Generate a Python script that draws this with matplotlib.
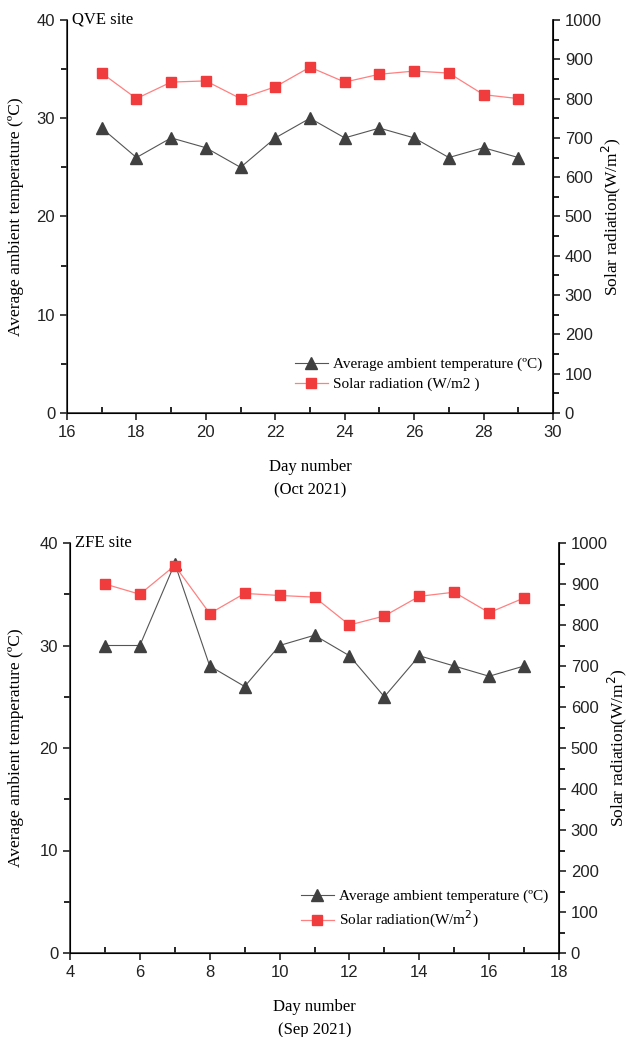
import matplotlib
matplotlib.use("Agg")
import matplotlib.pyplot as plt
from matplotlib.ticker import MultipleLocator

plt.rcParams.update({"font.family": "Liberation Sans", "font.size": 11})
SERIF = "Liberation Serif"

# QVE site, Oct 2021
qve_days = [17, 18, 19, 20, 21, 22, 23, 24, 25, 26, 27, 28, 29]
qve_temp = [29, 26, 28, 27, 25, 28, 30, 28, 29, 28, 26, 27, 26]
qve_rad = [865, 800, 842, 845, 800, 830, 880, 842, 862, 870, 865, 810, 800]

# ZFE site, Sep 2021
zfe_days = [5, 6, 7, 8, 9, 10, 11, 12, 13, 14, 15, 16, 17]
zfe_temp = [30, 30, 38, 28, 26, 30, 31, 29, 25, 29, 28, 27, 28]
zfe_rad = [900, 875, 945, 828, 877, 872, 868, 800, 822, 870, 880, 830, 866]

W, H = 628, 1037
fig = plt.figure(figsize=(W / 100, H / 100), dpi=100)


def panel(rect, days, temp, rad, xlim, site, month, leg_labels, rlab_x):
    ax = fig.add_axes(rect)
    ax2 = ax.twinx()
    ax.spines["top"].set_visible(False)
    ax2.spines["top"].set_visible(False)
    for s in ("left", "bottom"):
        ax.spines[s].set_linewidth(1.2)
        ax.spines[s].set_color("#333333")
    ax2.spines["right"].set_linewidth(1.2)

    l1, = ax.plot(days, temp, color="#555555", lw=0.8, marker="^",
                  ms=8, mfc="#404040", mec="#404040")
    l2, = ax2.plot(days, rad, color="#ff8080", lw=0.9, marker="s",
                   ms=7, mfc="#f03c3c", mec="#f03c3c")

    ax.set_xlim(*xlim)
    ax.set_ylim(0, 40)
    ax2.set_ylim(0, 1000)
    ax.xaxis.set_major_locator(MultipleLocator(2))
    ax.xaxis.set_minor_locator(MultipleLocator(1))
    ax.yaxis.set_major_locator(MultipleLocator(10))
    ax.yaxis.set_minor_locator(MultipleLocator(5))
    ax2.yaxis.set_major_locator(MultipleLocator(100))
    ax2.yaxis.set_minor_locator(MultipleLocator(50))
    ax.tick_params(axis="x", which="major", direction="out", length=5, width=1.2)
    ax.tick_params(axis="x", which="minor", direction="in", length=4, width=1.2)
    ax.tick_params(axis="y", which="major", direction="out", length=5, width=1.2)
    ax.tick_params(axis="y", which="minor", direction="out", length=4, width=1.2)
    ax2.tick_params(axis="y", which="major", direction="out", length=5, width=1.2)
    ax2.tick_params(axis="y", which="minor", direction="out", length=4, width=1.2)
    ax.tick_params(labelsize=12, colors="#222222")
    ax2.tick_params(labelsize=12, colors="#222222")

    axw = rect[2] * W
    ax.set_ylabel("Average ambient temperature (ºC)", family=SERIF,
                  fontsize=12.5, va="center")
    ax.yaxis.set_label_coords(-(rect[0] * W - 16) / axw, 0.5)
    ax2.set_ylabel("Solar radiation(W/m$^2$)", family=SERIF, fontsize=12.5,
                   rotation=90, va="center")
    ax2.yaxis.set_label_coords(1 + (rlab_x - (rect[0] * W + axw)) / axw, 0.5)
    ax.set_xlabel(f"Day number\n({month} 2021)", family=SERIF, fontsize=12,
                  labelpad=14, linespacing=1.6)
    ax.text(0.01, 1.0, site, transform=ax.transAxes, family=SERIF,
            fontsize=12, va="center", ha="left")
    ax2.legend([l1, l2], leg_labels, loc="lower right",
               bbox_to_anchor=(0.99, 0.04), frameon=False,
               prop={"family": SERIF, "size": 11}, handlelength=2.2,
               handletextpad=0.3, labelspacing=0.4, borderaxespad=0)
    return ax


panel([67 / W, 1 - 413 / H, 486 / W, 393 / H], qve_days, qve_temp, qve_rad,
      (16, 30), "QVE site", "Oct",
      ["Average ambient temperature (ºC)", "Solar radiation (W/m2 )"], 611)
panel([70 / W, 1 - 953 / H, 489 / W, 410 / H], zfe_days, zfe_temp, zfe_rad,
      (4, 18), "ZFE site", "Sep",
      ["Average ambient temperature (ºC)", "Solar radiation(W/m$^2$)"], 617)

fig.savefig("out.png", dpi=100)
